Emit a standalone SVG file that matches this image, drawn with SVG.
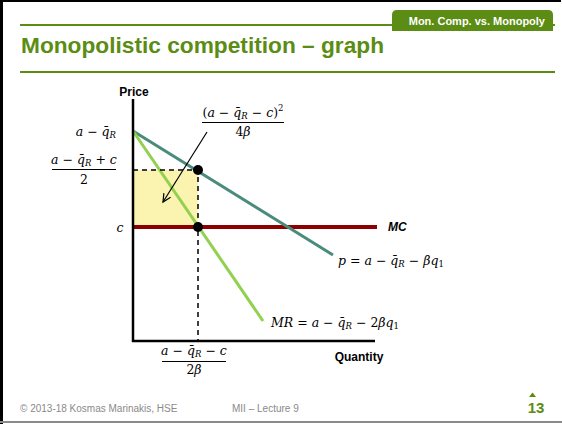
<svg xmlns="http://www.w3.org/2000/svg" width="562" height="424" viewBox="0 0 562 424">
<defs>
<style>
.hdr{fill:#5b8c13;font-family:"Liberation Sans",Arial,sans-serif;font-weight:bold}
.lbl{font-family:"Liberation Sans",Arial,sans-serif;font-weight:bold;font-size:12px;fill:#000}
.m{font-family:"DejaVu Serif","Liberation Serif",serif;font-size:12.5px;font-style:italic;fill:#000}
.u{font-style:normal}
.s{font-size:8.5px}
.foot{font-family:"Liberation Sans",Arial,sans-serif;font-size:10px;fill:#8a8a8a}
</style>
<marker id="ah" markerWidth="10" markerHeight="10" refX="8" refY="4" orient="auto" markerUnits="userSpaceOnUse">
<path d="M0,0 L8,4 L0,8" fill="none" stroke="#000" stroke-width="1.2"/>
</marker>
</defs>
<rect width="562" height="424" fill="#fff"/>
<g id="frame">
<rect x="0" y="0" width="561" height="2" fill="#000"/>
<rect x="0" y="0" width="3" height="424" fill="#000"/>
<rect x="0" y="421" width="562" height="2" fill="#8a8a8a"/>
</g>
<g id="header">
<rect x="20" y="24" width="535" height="2" fill="#5b8c13"/>
<path d="M392,31 V15 Q392,10 397,10 H548 Q553,10 553,15 V31 Z" fill="#5b8c13"/>
<text x="545" y="25" text-anchor="end" font-family="Liberation Sans,Arial,sans-serif" font-weight="bold" font-size="11" fill="#fff">Mon. Comp. vs. Monopoly</text>
<text class="hdr" x="21" y="53" font-size="22.7">Monopolistic competition – graph</text>
<rect x="20" y="71" width="535" height="2" fill="#5b8c13"/>
</g>
<g id="surplus">
<rect x="133" y="170" width="65" height="57" fill="#faf4b0"/>
</g>
<g id="connectors">
<line id="mc" x1="133" y1="227" x2="377" y2="227" stroke="#8b0000" stroke-width="4"/>
<line id="demand" x1="133" y1="131" x2="333" y2="255" stroke="#4a8c7c" stroke-width="3"/>
<line id="mr" x1="133" y1="131" x2="263" y2="321" stroke="#92d050" stroke-width="3"/>
<polyline points="133,170 198,170 198,341" fill="none" stroke="#000" stroke-width="1.5" stroke-dasharray="5,4"/>
<line x1="133" y1="99" x2="133" y2="342" stroke="#000" stroke-width="2.5"/>
<line x1="132" y1="341" x2="375" y2="341" stroke="#000" stroke-width="2.5"/>
<line x1="207" y1="132" x2="163" y2="202" stroke="#000" stroke-width="1.2" marker-end="url(#ah)"/>
</g>
<g id="points">
<circle cx="198" cy="170" r="5" fill="#000"/>
<circle cx="198" cy="227" r="5" fill="#000"/>
</g>
<g id="labels">
<text class="lbl" x="134" y="96" text-anchor="middle">Price</text>
<text class="lbl" x="359" y="361" text-anchor="middle">Quantity</text>
<text class="lbl" x="388" y="231" font-style="italic">MC</text>
<text class="m" x="116" y="136" text-anchor="end">a <tspan class="u">−</tspan> q&#x304;<tspan class="s" dy="2">R</tspan></text>
<text class="m" x="84" y="164" text-anchor="middle">a <tspan class="u">−</tspan> q&#x304;<tspan class="s" dy="2">R</tspan><tspan dy="-2"> </tspan><tspan class="u">+</tspan> c</text>
<line x1="52" y1="169.5" x2="116" y2="169.5" stroke="#000" stroke-width="1"/>
<text class="m u" x="84" y="184" text-anchor="middle">2</text>
<text class="m" x="120" y="232" text-anchor="middle">c</text>
<text class="m" x="243" y="117" text-anchor="middle"><tspan class="u">(</tspan>a <tspan class="u">−</tspan> q&#x304;<tspan class="s" dy="2">R</tspan><tspan dy="-2"> </tspan><tspan class="u">−</tspan> c<tspan class="u">)</tspan><tspan class="u s" dy="-6">2</tspan></text>
<line x1="202" y1="122.5" x2="284" y2="122.5" stroke="#000" stroke-width="1"/>
<text class="m" x="243" y="136" text-anchor="middle"><tspan class="u">4</tspan>β</text>
<text class="m" x="338" y="265">p <tspan class="u">=</tspan> a <tspan class="u">−</tspan> q&#x304;<tspan class="s" dy="2">R</tspan><tspan dy="-2"> </tspan><tspan class="u">−</tspan> βq<tspan class="s u" dy="2">1</tspan></text>
<text class="m" x="271" y="327">MR <tspan class="u">=</tspan> a <tspan class="u">−</tspan> q&#x304;<tspan class="s" dy="2">R</tspan><tspan dy="-2"> </tspan><tspan class="u">−</tspan> <tspan class="u">2</tspan>βq<tspan class="s u" dy="2">1</tspan></text>
<text class="m" x="194" y="355" text-anchor="middle">a <tspan class="u">−</tspan> q&#x304;<tspan class="s" dy="2">R</tspan><tspan dy="-2"> </tspan><tspan class="u">−</tspan> c</text>
<line x1="162" y1="361.5" x2="226" y2="361.5" stroke="#000" stroke-width="1"/>
<text class="m" x="194" y="374" text-anchor="middle"><tspan class="u">2</tspan>β</text>
</g>
<g id="footer">
<text class="foot" x="20" y="412">© 2013-18 Kosmas Marinakis, HSE</text>
<text class="foot" x="232" y="412">MII – Lecture 9</text>
<path d="M529,397 L532.5,392.5 L536,397 Z" fill="#5b8c13"/>
<text x="536" y="413" text-anchor="middle" font-family="Liberation Sans,Arial,sans-serif" font-weight="bold" font-size="15" fill="#5b8c13">13</text>
</g>
</svg>
